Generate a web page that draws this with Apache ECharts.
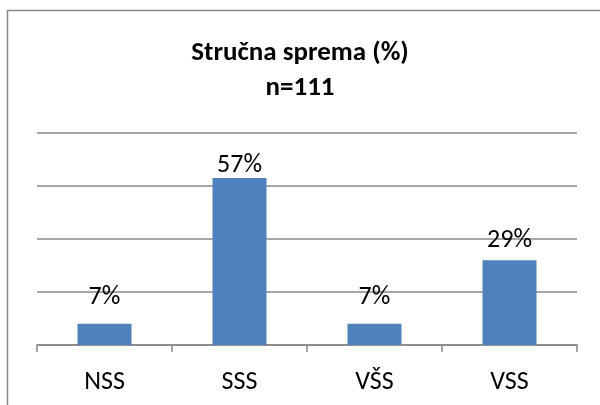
<!DOCTYPE html>
<html style="height: 100%">
<head>
    <meta charset="utf-8">
    <script src="https://cdn.jsdelivr.net/npm/echarts@6/dist/echarts.min.js"></script>
</head>
<body style="height: 100%; margin: 0; background: #fff">
    <div id="container" style="width: 600px; height: 405px"></div>
    <script type="text/javascript">
        // n=111, counts per category and the shares shown on top of bars
        var categories = ['NSS', 'SSS', 'VŠS', 'VSS'];
        var counts = [8, 63, 8, 32];
        var percents = ['7%', '57%', '7%', '29%'];

        // label gap above each bar, as in the original sheet
        var labelGap = [13, 0, 13, 7];

        var chart = echarts.init(document.getElementById('container'), null, { renderer: 'canvas' });
        var font = 'Carlito, "Open Sans", "Noto Sans", sans-serif';

        var option = {
            animation: false,
            backgroundColor: '#fff',
            title: {
                text: 'Stručna sprema (%)\nn=111',
                left: 'center',
                top: 31,
                textStyle: {
                    fontFamily: font,
                    fontSize: 27,
                    fontWeight: 'bold',
                    color: '#000',
                    lineHeight: 35
                }
            },
            graphic: [{
                type: 'rect',
                shape: { x: 7.5, y: 10.5, width: 600, height: 400 },
                style: { fill: null, stroke: '#888', lineWidth: 1.5 },
                silent: true
            }],
            grid: { left: 37, right: 23, top: 133, bottom: 60 },
            xAxis: {
                type: 'category',
                data: categories,
                axisLine: { lineStyle: { color: '#888', width: 1.5 } },
                axisTick: { show: true, length: 7, lineStyle: { color: '#888', width: 1.5 } },
                axisLabel: { color: '#000', fontFamily: font, fontSize: 26, margin: 24 }
            },
            yAxis: {
                type: 'value',
                min: 0,
                max: 80,
                interval: 20,
                axisLabel: { show: false },
                axisLine: { show: false },
                axisTick: { show: false },
                splitLine: { lineStyle: { color: '#888', width: 1.5 } }
            },
            series: [{
                type: 'bar',
                data: counts.map(function (v, i) {
                    return { value: v, label: { distance: labelGap[i] } };
                }),
                barWidth: '40%',
                itemStyle: { color: '#4f81bd' },
                label: {
                    show: true,
                    position: 'top',
                    color: '#000',
                    fontFamily: font,
                    fontSize: 26,
                    formatter: function (p) { return percents[p.dataIndex]; }
                }
            }]
        };
        chart.setOption(option);
    </script>
</body>
</html>
